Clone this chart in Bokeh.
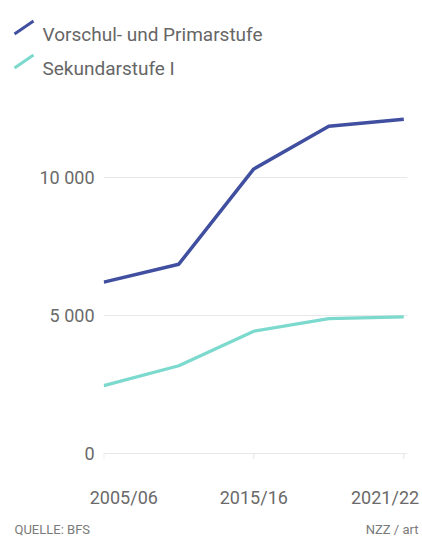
from bokeh.plotting import figure
from bokeh.models import Range1d, FixedTicker
from bokeh.core.properties import value
from bokeh.embed import file_html
from bokeh.resources import INLINE

# ---- data ----
periods = ["2005/06", "2010/11", "2015/16", "2018/19", "2021/22"]
vorschul_primar = [6200, 6850, 10300, 11850, 12100]
sekundar_1 = [2450, 3170, 4420, 4880, 4940]
labeled_periods = ["2005/06", "2015/16", "2021/22"]
y_ticks = [0, 5000, 10000]
y_tick_labels = ["0", "5 000", "10 000"]
series_names = ["Vorschul- und Primarstufe", "Sekundarstufe I"]
source_text = "QUELLE: BFS"
credit_text = "NZZ / art"

# ---- style / layout ----
BLUE = "#404f9f"
TEAL = "#7cd9cd"
FONT = "Roboto"
TXT = "#6a6a6a"
W = 422
LEG_H, MAIN_H, FOOT_H = 86, 424, 32


def blank_fig(h):
    f = figure(width=W, height=h, x_range=Range1d(0, W), y_range=Range1d(h, 0),
               output_backend="svg", toolbar_location=None,
               x_axis_location=None, y_axis_location=None,
               min_border=0, min_border_left=0, min_border_right=0,
               min_border_top=0, min_border_bottom=0)
    f.outline_line_color = None
    f.xgrid.grid_line_color = None
    f.ygrid.grid_line_color = None
    return f


# ---- legend ----
leg = blank_fig(LEG_H)
cols = [BLUE, TEAL]
bases = [34, 68]
leg.segment(x0=[14] * 2, y0=[b - 0.5 for b in bases], x1=[33] * 2, y1=[b - 13.5 for b in bases],
            line_color=cols, line_width=3)
leg.text(x=[42] * 2, y=bases, text=series_names, text_font=value(FONT),
         text_font_size="19px", text_color="#666666",
         text_baseline="alphabetic", text_align="left")

# ---- main chart ----
LEFT, RIGHT, TOP, BOTTOM = 103, 15, 0, 46
FRAME_W = W - LEFT - RIGHT
FRAME_H = MAIN_H - TOP - BOTTOM
PX_X = 75.0
PX_Y = 0.0279
X0 = -0.004
X1 = X0 + FRAME_W / PX_X
Y0 = -262.0
Y1 = Y0 + FRAME_H / PX_Y

xs = list(range(len(periods)))

p = figure(width=W, height=MAIN_H, x_range=Range1d(X0, X1), y_range=Range1d(Y0, Y1),
           output_backend="svg", toolbar_location=None,
           min_border_left=LEFT, min_border_right=RIGHT,
           min_border_top=TOP, min_border_bottom=BOTTOM)
p.outline_line_color = None

p.xgrid.grid_line_color = None
p.ygrid.ticker = FixedTicker(ticks=y_ticks)
p.ygrid.grid_line_color = "#e8e8e8"
p.ygrid.grid_line_width = 1

p.yaxis.ticker = FixedTicker(ticks=y_ticks)
p.yaxis.major_label_overrides = {t: l for t, l in zip(y_ticks, y_tick_labels)}
p.yaxis.axis_line_color = None
p.yaxis.major_tick_line_color = None
p.yaxis.minor_tick_line_color = None
p.yaxis.major_label_standoff = 3
p.yaxis.major_label_text_font = FONT
p.yaxis.major_label_text_font_size = "18px"
p.yaxis.major_label_text_color = TXT

tick_idx = [periods.index(c) for c in labeled_periods]
shifts = {0: 0.267, len(periods) - 1: -0.25}
label_pos = [i + shifts.get(i, 0.0) for i in tick_idx]
p.xaxis.ticker = FixedTicker(ticks=label_pos)
p.xaxis.major_label_overrides = {pos: c for pos, c in zip(label_pos, labeled_periods)}
p.xaxis.axis_line_color = None
p.xaxis.major_tick_line_color = None
p.xaxis.minor_tick_line_color = None
p.xaxis.major_label_standoff = 20
p.xaxis.major_label_text_font = FONT
p.xaxis.major_label_text_font_size = "18px"
p.xaxis.major_label_text_color = TXT

p.segment(x0=tick_idx, y0=[0] * len(tick_idx), x1=tick_idx, y1=[-215] * len(tick_idx),
          line_color="#e3e3e3", line_width=1)

p.line(xs, sekundar_1, line_color=TEAL, line_width=3.2, line_join="round")
p.line(xs, vorschul_primar, line_color=BLUE, line_width=3.5, line_join="round")

# ---- footer ----
foot = blank_fig(FOOT_H)
foot.text(x=[14], y=[19], text=[source_text], text_font=value(FONT),
          text_font_size="13px", text_color="#7a7a7a",
          text_baseline="middle", text_align="left")
foot.text(x=[418], y=[19], text=[credit_text], text_font=value(FONT),
          text_font_size="13px", text_color="#7a7a7a",
          text_baseline="middle", text_align="right")

open("out.html", "w").write(file_html([leg, p, foot], INLINE))
